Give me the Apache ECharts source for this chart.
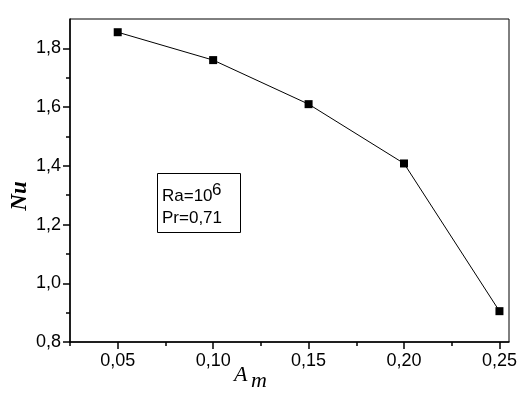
<!DOCTYPE html>
<html>
<head>
<meta charset="utf-8">
<script src="https://cdn.jsdelivr.net/npm/echarts@6/dist/echarts.min.js"></script>
<style>
html, body { margin: 0; padding: 0; background: #fff; }
#main { width: 526px; height: 398px; }
</style>
</head>
<body>
<div id="main"></div>
<script>
// data
var amValues = [0.05, 0.10, 0.15, 0.20, 0.25];
var nuValues = [1.855, 1.760, 1.610, 1.408, 0.905];

var xMajorTicks = [0.05, 0.10, 0.15, 0.20, 0.25];
var xMinorTicks = [0.025, 0.075, 0.125, 0.175, 0.225];
var yMajorTicks = [0.8, 1.0, 1.2, 1.4, 1.6, 1.8];
var yMinorTicks = [0.9, 1.1, 1.3, 1.5, 1.7];

var chart = echarts.init(document.getElementById('main'));

function commaFmt(digits) {
    return function (v) { return v.toFixed(digits).replace('.', ','); };
}

var seriesData = [];
for (var i = 0; i < amValues.length; i++) {
    seriesData.push([amValues[i], nuValues[i]]);
}

var labelFont = { fontFamily: 'Arial, "Liberation Sans", sans-serif', fontSize: 18, color: '#000' };

chart.setOption({
    animation: false,
    grid: {
        left: 70, top: 19, right: 17, bottom: 56,
        containLabel: false, outerBoundsMode: 'none',
        show: true, borderColor: '#000', borderWidth: 1
    },
    xAxis: [{
        type: 'value', min: 0.025, max: 0.255,
        axisLine: { show: true, onZero: false, lineStyle: { color: '#000', width: 1.5 } },
        axisTick: { show: true, customValues: xMajorTicks, length: 7, lineStyle: { color: '#000', width: 1.5 } },
        axisLabel: Object.assign({ customValues: xMajorTicks, formatter: commaFmt(2), margin: 10 }, labelFont),
        splitLine: { show: false }
    }, {
        type: 'value', min: 0.025, max: 0.255, position: 'bottom',
        axisLine: { show: false },
        axisTick: { show: true, customValues: xMinorTicks, length: 4, lineStyle: { color: '#000', width: 1.5 } },
        axisLabel: { show: false },
        splitLine: { show: false }
    }],
    yAxis: [{
        type: 'value', min: 0.8, max: 1.9,
        axisLine: { show: true, onZero: false, lineStyle: { color: '#000', width: 1.5 } },
        axisTick: { show: true, customValues: yMajorTicks, length: 7, lineStyle: { color: '#000', width: 1.5 } },
        axisLabel: Object.assign({ customValues: yMajorTicks, formatter: commaFmt(1), margin: 9 }, labelFont),
        splitLine: { show: false }
    }, {
        type: 'value', min: 0.8, max: 1.9, position: 'left',
        axisLine: { show: false },
        axisTick: { show: true, customValues: yMinorTicks, length: 4, lineStyle: { color: '#000', width: 1.5 } },
        axisLabel: { show: false },
        splitLine: { show: false }
    }],
    series: [{
        type: 'line',
        data: seriesData,
        symbol: 'rect', symbolSize: 8,
        itemStyle: { color: '#000' },
        lineStyle: { color: '#000', width: 1 }
    }],
    graphic: [
        // y axis name Nu
        { type: 'text', x: 9, y: 196, rotation: Math.PI / 2,
          style: { text: 'Nu', font: 'italic bold 23px "Liberation Serif", serif', fill: '#000', align: 'center', verticalAlign: 'top' } },
        // x axis name A_m
        { type: 'text', left: 234, top: 364, style: { text: 'A', font: 'italic 22px "Liberation Serif", serif', fill: '#000' } },
        { type: 'text', left: 251, top: 370, style: { text: 'm', font: 'italic 22px "Liberation Serif", serif', fill: '#000' } },
        // annotation box
        { type: 'rect', shape: { x: 157.5, y: 173.5, width: 83, height: 59 }, style: { fill: '#fff', stroke: '#000', lineWidth: 1 } },
        { type: 'text', left: 162, top: 188, style: { text: 'Ra=10', font: '17px Arial, "Liberation Sans", sans-serif', fill: '#000' } },
        { type: 'text', left: 212, top: 182, style: { text: '6', font: '17px Arial, "Liberation Sans", sans-serif', fill: '#000' } },
        { type: 'text', left: 162, top: 210, style: { text: 'Pr=0,71', font: '17px Arial, "Liberation Sans", sans-serif', fill: '#000' } }
    ]
});
</script>
</body>
</html>
